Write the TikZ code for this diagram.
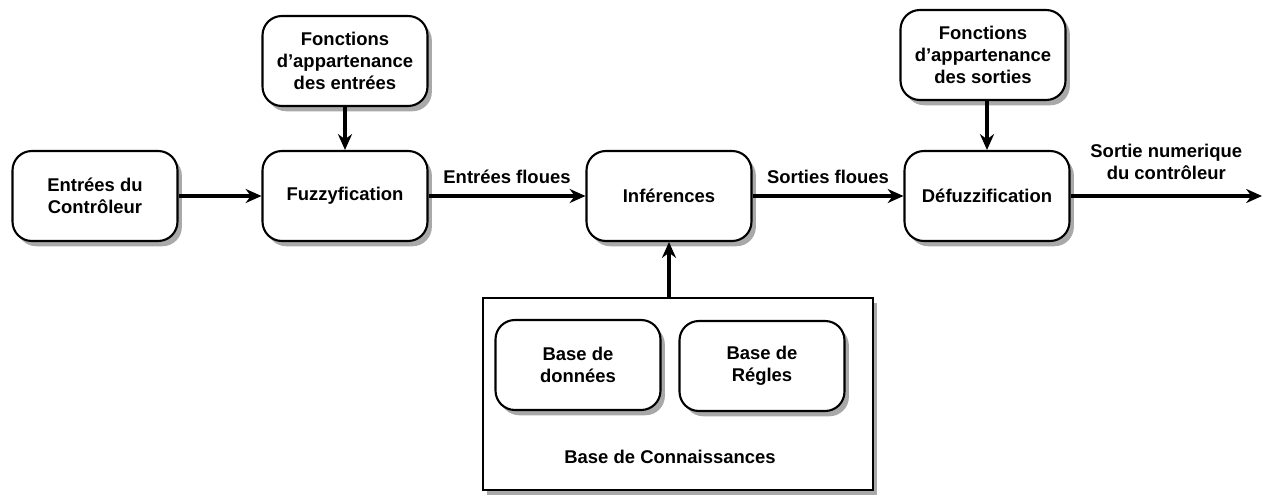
\documentclass[tikz,border=0pt]{standalone}
\usepackage{fontspec}
\setmainfont{Liberation Sans}
\usepackage{tikz}
\usetikzlibrary{positioning,arrows.meta,shadows}

\begin{document}
\begin{tikzpicture}[x=0.02cm,y=-0.02cm,>={Stealth[length=9pt,width=8pt]},
  every node/.style={font=\bfseries\fontsize{10.5}{12.5}\selectfont,align=center},
  ombre/.style={drop shadow={shadow xshift=2.5pt,shadow yshift=-3pt,fill=black!75,opacity=.45}},
  bloc/.style={draw,line width=1.2pt,rounded corners=11pt,fill=white,
    minimum width=3.3cm,minimum height=1.8cm,ombre},
  fleche/.style={->,line width=1.8pt}]
\useasboundingbox (0,0) rectangle (1275,497);
% base de connaissances
\node[draw,line width=1.4pt,fill=white,minimum width=7.8cm,minimum height=3.84cm,ombre] (base) at (678,394) {};
\node (lbase) at (670,457) {Base de Connaissances};
\node[bloc] (donnees) at (578,365) {Base de\\données};
\node[bloc] (regles) at (762,366) {Base de\\Régles};
% chaine principale
\node[bloc] (entree) at (95,196) {Entrées du\\Contrôleur};
\node[bloc] (fuzz) at (345,196) {Fuzzyfication};
\node[bloc] (fe) at (345,61) {Fonctions\\d'appartenance\\des entrées};
\node[bloc] (inf) at (669,196) {Inférences};
\node[bloc] (defuz) at (987,196) {Défuzzification};
\node[bloc] (fs) at (983,55) {Fonctions\\d'appartenance\\des sorties};
\coordinate (sortie) at (1262,196);
\draw[fleche] (entree) -- (fuzz);
\draw[fleche] (fe) -- (fuzz);
\draw[fleche] (fuzz) -- node[above=3pt] {Entrées floues} (inf);
\draw[fleche] (inf) -- node[above=3pt] {Sorties floues} (defuz);
\draw[fleche] (fs.south -| defuz) -- (defuz);
\draw[fleche] (base.north -| inf) -- (inf);
\draw[fleche] (defuz) -- node[above=5pt] {Sortie numerique\\du contrôleur} (sortie);
\end{tikzpicture}
\end{document}
